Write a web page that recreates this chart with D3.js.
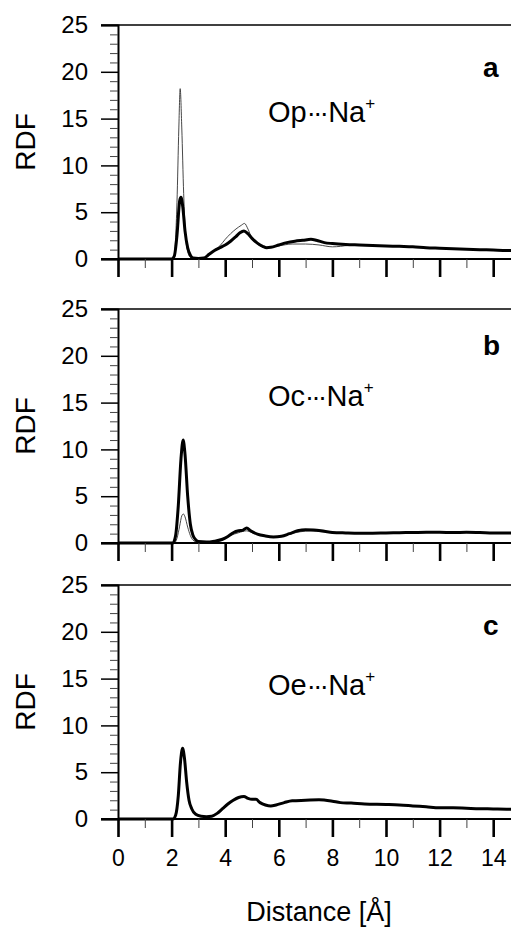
<!DOCTYPE html>
<html>
<head>
<meta charset="utf-8">
<script src="https://cdn.jsdelivr.net/npm/d3@7"></script>
<style>
body { margin: 0; background: #fff; }
svg { display: block; font-family: Arial, "Liberation Sans", sans-serif; }
</style>
</head>
<body>
<svg id="chart" width="511" height="928"></svg>
<script>
// distance [A], rdf value
var opThick = [[0,0],[2.0,0],[2.1,0.3],[2.2,2.5],[2.3,6.2],[2.35,6.6],[2.42,5.5],[2.5,3.0],[2.6,1.2],[2.7,0.4],[2.8,0.1],[3.0,0.05],[3.2,0.1],[3.4,0.5],[3.6,0.9],[3.8,1.2],[4.0,1.5],[4.2,1.9],[4.4,2.4],[4.55,2.8],[4.7,3.0],[4.85,2.7],[5.0,2.2],[5.2,1.7],[5.4,1.35],[5.55,1.2],[5.7,1.25],[6.0,1.5],[6.3,1.75],[6.6,1.9],[6.9,2.0],[7.2,2.1],[7.4,2.0],[7.7,1.75],[8.0,1.65],[8.5,1.55],[9,1.5],[9.5,1.45],[10,1.4],[10.5,1.35],[11,1.3],[11.5,1.2],[12,1.15],[12.5,1.1],[13,1.05],[13.5,1.0],[14,0.95],[14.5,0.9],[15,0.9]];
var opThin = [[0,0],[2.05,0],[2.12,1.0],[2.2,6],[2.27,14],[2.32,18.2],[2.38,14],[2.45,7],[2.52,2.5],[2.6,0.8],[2.7,0.2],[2.9,0.05],[3.2,0.1],[3.4,0.4],[3.6,0.9],[3.8,1.4],[4.0,2.1],[4.2,2.7],[4.4,3.2],[4.6,3.6],[4.72,3.8],[4.85,3.2],[5.0,2.2],[5.2,1.6],[5.4,1.3],[5.6,1.25],[6.0,1.4],[6.5,1.6],[7.0,1.6],[7.5,1.5],[8.0,1.3],[8.3,1.35],[8.6,1.45],[9,1.45],[9.5,1.42],[10,1.38],[10.5,1.33],[11,1.28],[11.5,1.2],[12,1.15],[12.5,1.1],[13,1.05],[13.5,1.0],[14,0.95],[14.5,0.9],[15,0.9]];

var ocThick = [[0,0],[2.05,0],[2.15,0.8],[2.25,4],[2.35,9],[2.43,11],[2.5,9.5],[2.6,5],[2.7,2],[2.8,0.8],[2.9,0.35],[3.0,0.15],[3.3,0.1],[3.6,0.2],[3.9,0.4],[4.1,0.7],[4.3,1.1],[4.5,1.3],[4.65,1.35],[4.8,1.6],[4.95,1.3],[5.2,0.95],[5.5,0.75],[5.8,0.65],[6.1,0.72],[6.4,1.0],[6.7,1.3],[7.0,1.42],[7.3,1.4],[7.7,1.25],[8.0,1.13],[8.5,1.08],[9,1.05],[9.5,1.05],[10,1.08],[10.5,1.1],[11,1.12],[11.5,1.15],[12,1.15],[12.5,1.12],[13,1.15],[13.5,1.12],[14,1.08],[14.5,1.07],[15,1.05]];
var ocThin = [[0,0],[2.1,0],[2.2,0.5],[2.3,1.8],[2.38,2.9],[2.44,3.1],[2.5,2.8],[2.6,1.7],[2.7,0.8],[2.8,0.3],[2.95,0.1],[3.3,0.08],[3.6,0.15],[3.9,0.35],[4.2,0.8],[4.5,1.1],[4.8,1.3],[5.0,1.1],[5.3,0.85],[5.6,0.7],[6.0,0.7],[6.4,0.95],[6.8,1.2],[7.2,1.3],[7.6,1.2],[8.0,1.1],[8.5,1.06],[9,1.03],[10,1.06],[11,1.1],[12,1.13],[13,1.13],[14,1.07],[15,1.04]];

var oeThick = [[0,0],[2.05,0],[2.15,0.4],[2.25,2.5],[2.33,6],[2.41,7.55],[2.48,6.5],[2.56,4],[2.65,2],[2.75,1.1],[2.9,0.5],[3.1,0.3],[3.3,0.25],[3.5,0.3],[3.7,0.6],[3.9,1.1],[4.1,1.6],[4.3,2.0],[4.5,2.3],[4.7,2.4],[4.85,2.2],[5.0,2.1],[5.15,2.1],[5.3,1.75],[5.5,1.5],[5.7,1.4],[5.9,1.5],[6.2,1.75],[6.5,1.95],[7.0,2.0],[7.5,2.05],[8.0,1.9],[8.3,1.75],[8.7,1.7],[9.2,1.6],[10,1.55],[10.5,1.5],[11,1.4],[11.5,1.3],[12,1.2],[12.5,1.2],[13,1.15],[13.5,1.1],[14,1.08],[14.5,1.05],[15,1.02]];

var yTicks = [0, 5, 10, 15, 20, 25];
var xTicks = [0, 2, 4, 6, 8, 10, 12, 14];

var panels = [
  {top: 25, name: "Op", letter: "a", thick: opThick, thin: opThin, labelY: 97, letterY: 52},
  {top: 309, name: "Oc", letter: "b", thick: ocThick, thin: ocThin, labelY: 97, letterY: 46},
  {top: 585, name: "Oe", letter: "c", thick: oeThick, thin: null, labelY: 110, letterY: 50}
];

var left = 118, plotW = 402, plotH = 234;
var svg = d3.select("#chart");

var x = d3.scaleLinear().domain([0, 15]).range([0, plotW]);

panels.forEach(function(p, i) {
  var y = d3.scaleLinear().domain([0, 25]).range([plotH, 0]);
  var g = svg.append("g").attr("transform", "translate(" + left + "," + p.top + ")");

  var line = d3.line().x(function(d) { return x(d[0]); }).y(function(d) { return y(d[1]); })
    .curve(d3.curveMonotoneX);

  if (p.thin) {
    g.append("path").datum(p.thin).attr("d", line)
      .attr("fill", "none").attr("stroke", "#333").attr("stroke-width", 0.9);
  }
  g.append("path").datum(p.thick).attr("d", line)
    .attr("fill", "none").attr("stroke", "#000").attr("stroke-width", 3).attr("stroke-linejoin", "round");

  // frame top
  g.append("line").attr("x1", -17).attr("x2", plotW).attr("y1", 0).attr("y2", 0)
    .attr("stroke", "#000").attr("stroke-width", 1.5);

  // y axis
  var yAxis = d3.axisLeft(y).tickValues(yTicks).tickSize(17).tickPadding(13);
  var ya = g.append("g").call(yAxis);
  ya.select(".domain").attr("stroke-width", 2);
  ya.selectAll(".tick line").attr("stroke-width", 1.5);
  ya.selectAll("text").attr("font-size", 24).attr("font-family", "Arial, 'Liberation Sans', sans-serif");
  var yMinor = d3.axisLeft(y).tickValues(d3.range(0, 26).filter(function(v) { return v % 5; }))
    .tickSize(8).tickFormat("");
  var ym = g.append("g").call(yMinor);
  ym.select(".domain").remove();
  ym.selectAll(".tick line").attr("stroke", "#444").attr("stroke-width", 1);

  // x axis
  var xa = g.append("g").attr("transform", "translate(0," + plotH + ")")
    .call(d3.axisBottom(x).tickValues(xTicks).tickSize(18).tickPadding(13)
      .tickFormat(i == 2 ? d3.format("d") : ""));
  xa.select(".domain").attr("stroke-width", 2.2).attr("d", "M-17,0H" + plotW);
  xa.selectAll(".tick line").attr("stroke-width", 2.6);
  xa.selectAll("text").attr("font-size", 23).attr("font-family", "Arial, 'Liberation Sans', sans-serif");
  var xm = g.append("g").attr("transform", "translate(0," + plotH + ")")
    .call(d3.axisBottom(x).tickValues([1, 3, 5, 7, 9, 11, 13]).tickSize(9).tickFormat(""));
  xm.select(".domain").remove();
  xm.selectAll(".tick line").attr("stroke", "#444").attr("stroke-width", 1);

  // RDF label
  svg.append("text").attr("transform", "translate(35," + (p.top + plotH / 2) + ") rotate(-90)")
    .attr("text-anchor", "middle").attr("font-size", 28).text("RDF");

  // pair label
  var t = g.append("text").attr("x", 150).attr("y", p.labelY).attr("font-size", 29);
  t.append("tspan").text(p.name);
  t.append("tspan").attr("letter-spacing", -2.5).attr("font-size", 27).text("\u00B7\u00B7\u00B7");
  t.append("tspan").attr("dx", 2).text("Na");
  t.append("tspan").attr("dy", -13).attr("font-size", 17).text("+");

  g.append("text").attr("x", 365).attr("y", p.letterY).attr("font-size", 28)
    .attr("font-weight", "bold").text(p.letter);
});

svg.append("text").attr("x", left + plotW / 2).attr("y", 921).attr("text-anchor", "middle")
  .attr("font-size", 27).text("Distance [\u00C5]");
</script>
</body>
</html>
